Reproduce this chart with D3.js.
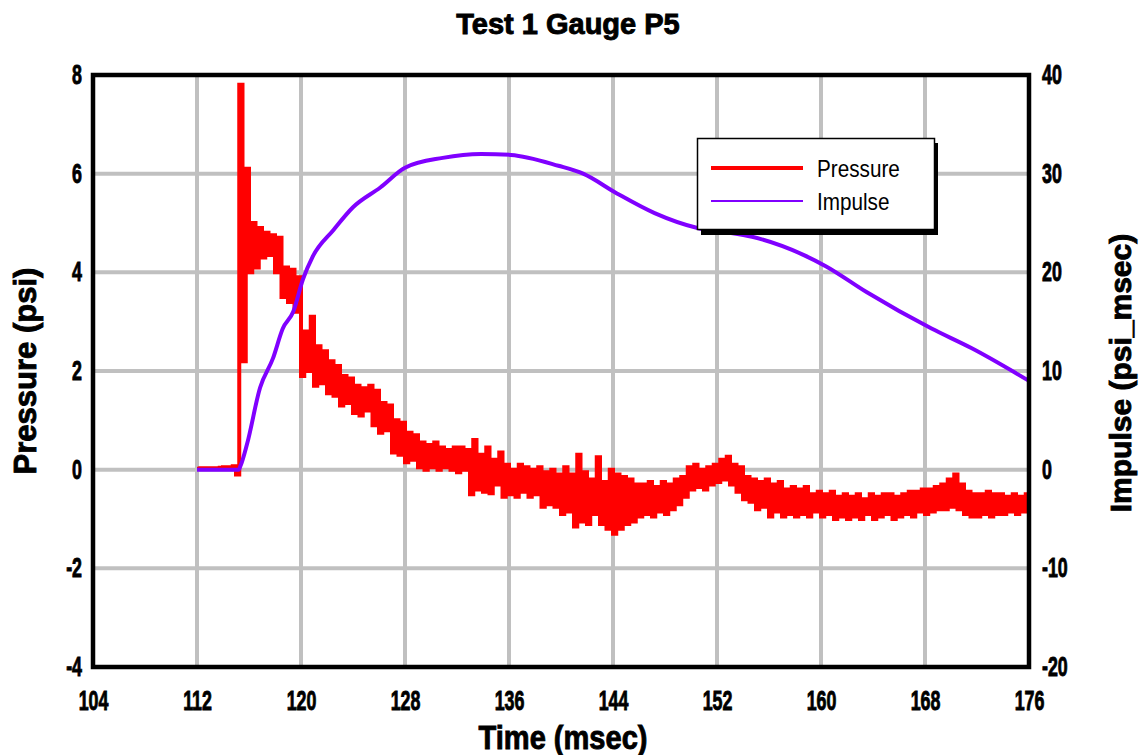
<!DOCTYPE html>
<html>
<head>
<meta charset="utf-8">
<script src="https://cdn.jsdelivr.net/npm/d3@7"></script>
<style>
  html, body { margin: 0; padding: 0; background: #fff; }
  svg { display: block; }
  .bold { font-family: "Liberation Sans", Arial, sans-serif; font-weight: bold; fill: #000; stroke: #000; stroke-width: 0.9px; }
  .leg { font-family: "Liberation Sans", Arial, sans-serif; font-size: 23px; fill: #000; }
</style>
</head>
<body>
<svg id="chart" width="1141" height="755"></svg>
<script>
// ---------- data ----------
const chartTitle = "Test 1 Gauge P5";
const xTitle = "Time (msec)";
const yLeftTitle = "Pressure (psi)";
const yRightTitle = "Impulse (psi_msec)";
const seriesNames = ["Pressure", "Impulse"];

const xTicks = [104, 112, 120, 128, 136, 144, 152, 160, 168, 176];
const yLeftTicks = [-4, -2, 0, 2, 4, 6, 8];
const yRightTicks = [-20, -10, 0, 10, 20, 30, 40];

// pressure samples, uniform sampling starting at pressureStart (msec) every pressureStep msec
const pressureStart = 112;
const pressureStep = 0.25;
const pressure = [
  0.02, 0.03, 0.02, 0.03, 0.02, 0.03, 0.03, 0.04,
  0.05, 0.04, 0.05, 0.07, -0.1, 7.8, 2.2, 6.1,
  4.0, 5.0, 4.1, 4.9, 4.3, 4.8, 4.35, 4.75,
  4.0, 4.7, 3.5, 4.1, 3.4, 4.05, 3.2, 3.9,
  1.9, 2.8, 2.0, 3.1, 1.7, 2.5, 1.75, 2.4,
  1.55, 2.2, 1.5, 2.1, 1.3, 1.9, 1.35, 1.85,
  1.15, 1.7, 1.1, 1.65, 1.2, 1.7, 0.9, 1.6,
  0.75, 1.35, 0.8, 1.3, 0.35, 1.0, 0.3, 0.95,
  0.15, 0.75, 0.2, 0.7, 0.05, 0.55, 0.0, 0.5,
  0.05, 0.55, 0.0, 0.45, 0.05, 0.4, 0.0, 0.45,
  -0.05, 0.45, 0.0, 0.4, -0.5, 0.6, -0.4, 0.3,
  -0.45, 0.45, -0.48, 0.2, -0.3, 0.35, -0.55, 0.1,
  -0.5, 0.0, -0.55, 0.1, -0.45, 0.05, -0.55, 0.0,
  -0.5, 0.05, -0.75, -0.05, -0.7, 0.0, -0.75, -0.1,
  -0.9, 0.05, -0.85, -0.1, -1.15, 0.3, -1.05, -0.05,
  -1.1, -0.2, -0.9, 0.25, -1.1, -0.25, -1.2, 0.0,
  -1.3, -0.1, -1.2, -0.15, -1.1, -0.2, -1.05, -0.3,
  -0.95, -0.3, -0.9, -0.25, -0.95, -0.35, -0.85, -0.25,
  -0.9, -0.3, -0.8, -0.2, -0.7, -0.15, -0.55, 0.05,
  -0.4, 0.1, -0.35, 0.0, -0.4, 0.05, -0.3, 0.1,
  -0.25, 0.2, -0.2, 0.26, -0.3, 0.1, -0.45, 0.05,
  -0.6, -0.15, -0.65, -0.2, -0.8, -0.25, -0.75, -0.2,
  -0.95, -0.3, -0.85, -0.25, -0.95, -0.4, -0.9, -0.35,
  -0.95, -0.4, -0.9, -0.35, -0.95, -0.5, -0.85, -0.45,
  -0.95, -0.5, -0.9, -0.45, -1.0, -0.55, -0.95, -0.5,
  -1.0, -0.55, -0.95, -0.5, -1.0, -0.6, -0.9, -0.5,
  -1.0, -0.55, -0.95, -0.5, -0.9, -0.5, -1.0, -0.55,
  -0.95, -0.5, -0.9, -0.45, -0.95, -0.45, -0.85, -0.4,
  -0.9, -0.4, -0.85, -0.35, -0.8, -0.3, -0.8, -0.2,
  -0.75, -0.1, -0.8, -0.3, -0.9, -0.45, -0.95, -0.5,
  -0.95, -0.5, -0.9, -0.45, -0.95, -0.5, -0.9, -0.5,
  -0.9, -0.55, -0.85, -0.5, -0.9, -0.55, -0.85, -0.5,
  -0.7
];

const impulseTime = [112, 115.2, 115.35, 115.85, 116.85, 117.85, 118.6, 119.4, 120.15, 120.9, 122.5, 124.0, 126.1, 128.0, 130.9, 133.85, 136.15, 139.8, 141.7, 144.3, 147.2, 150.5, 152.5, 154.7, 158.6, 160.4, 163.5, 168.5, 171.6, 176];
const impulse     = [0,   0,     0.4,    2.6,    8.3,    11.3,   14.3,  16.0,  19.3,   21.6,  24.3,  26.6,  28.6,  30.6,  31.6,  32.0,   31.9,   30.8,  30.0,  28.0,  26.0,  24.5,  24.1,  23.6,  21.8,  20.6,  18.0,  14.3,  12.3,  9.0];

// ---------- layout ----------
const svg = d3.select("#chart");
const L = 93, R = 1029, T = 75, B = 667;
const x = d3.scaleLinear().domain([104, 176]).range([L, R]);
const yL = d3.scaleLinear().domain([-4, 8]).range([B, T]);
const yR = d3.scaleLinear().domain([-20, 40]).range([B, T]);

function squeeze(sel, k) {
  sel.each(function () {
    const t = d3.select(this);
    const xx = +(t.attr("x") || 0);
    t.attr("x", xx / k).attr("transform", `scale(${k},1)`);
  });
}

// grid
const grid = svg.append("g");
grid.selectAll("line.v").data(xTicks.slice(1, -1)).join("line")
  .attr("x1", d => x(d)).attr("x2", d => x(d)).attr("y1", T).attr("y2", B)
  .attr("stroke", "#c0c0c0").attr("stroke-width", 4);
grid.selectAll("line.h").data(yLeftTicks.slice(1, -1)).join("line")
  .attr("y1", d => yL(d)).attr("y2", d => yL(d)).attr("x1", L).attr("x2", R)
  .attr("stroke", "#c0c0c0").attr("stroke-width", 4);

// pressure line
const pData = pressure.map((v, i) => [pressureStart + i * pressureStep, v]);
svg.append("path").datum(pData)
  .attr("fill", "none").attr("stroke", "#ff0000").attr("stroke-width", 4)
  .attr("stroke-linejoin", "miter")
  .attr("d", d3.line().x(d => x(d[0])).y(d => yL(d[1])).curve(d3.curveStepAfter));

// impulse line
const iData = impulseTime.map((t, i) => [t, impulse[i]]);
svg.append("path").datum(iData)
  .attr("fill", "none").attr("stroke", "#8000ff").attr("stroke-width", 4)
  .attr("d", d3.line().x(d => x(d[0])).y(d => yR(d[1])).curve(d3.curveMonotoneX));

// frame
svg.append("rect").attr("x", L).attr("y", T).attr("width", R - L).attr("height", B - T)
  .attr("fill", "none").attr("stroke", "#000").attr("stroke-width", 4.5);

// axes
const ax = svg.append("g").attr("transform", `translate(0,${B})`)
  .call(d3.axisBottom(x).tickValues(xTicks).tickSize(0).tickPadding(24).tickFormat(d3.format("d")));
const ayl = svg.append("g").attr("transform", `translate(${L},0)`)
  .call(d3.axisLeft(yL).tickValues(yLeftTicks).tickSize(0).tickPadding(11).tickFormat(d3.format("d")));
const ayr = svg.append("g").attr("transform", `translate(${R},0)`)
  .call(d3.axisRight(yR).tickValues(yRightTicks).tickSize(0).tickPadding(13).tickFormat(d3.format("d")));
[ax, ayl, ayr].forEach(g => {
  g.select(".domain").remove();
  g.selectAll("text").attr("class", "bold").attr("font-size", 27)
    .attr("font-family", null);
  squeeze(g.selectAll("text"), 0.66);
});
[ayl, ayr].forEach(g => g.selectAll("text").text(d => String(d)));

// titles
svg.append("text").attr("class", "bold").attr("font-size", 29)
  .attr("text-anchor", "middle").attr("transform", "translate(568,34)")
  .text(chartTitle);
svg.append("text").attr("class", "bold").attr("font-size", 33)
  .attr("text-anchor", "middle").attr("transform", "translate(563,749) scale(0.88,1)")
  .text(xTitle);
svg.append("text").attr("class", "bold").attr("font-size", 31)
  .attr("text-anchor", "middle").attr("transform", "translate(36,371) rotate(-90)")
  .text(yLeftTitle);
svg.append("text").attr("class", "bold").attr("font-size", 30)
  .attr("text-anchor", "middle").attr("transform", "translate(1131,373) rotate(-90)")
  .text(yRightTitle);

// legend
const lg = svg.append("g");
lg.append("rect").attr("x", 701).attr("y", 143).attr("width", 237).attr("height", 92).attr("fill", "#000");
lg.append("rect").attr("x", 697.5).attr("y", 138.5).attr("width", 237).attr("height", 91)
  .attr("fill", "#fff").attr("stroke", "#000").attr("stroke-width", 1.5);
const legColors = ["#ff0000", "#8000ff"];
const legWidths = [4, 2];
seriesNames.forEach((name, i) => {
  const yy = 168 + i * 33;
  lg.append("line").attr("x1", 711).attr("x2", 803).attr("y1", yy).attr("y2", yy)
    .attr("stroke", legColors[i]).attr("stroke-width", legWidths[i]);
  lg.append("text").attr("class", "leg").attr("transform", `translate(817,${yy + 9}) scale(0.9,1)`).text(name);
});
</script>
</body>
</html>
